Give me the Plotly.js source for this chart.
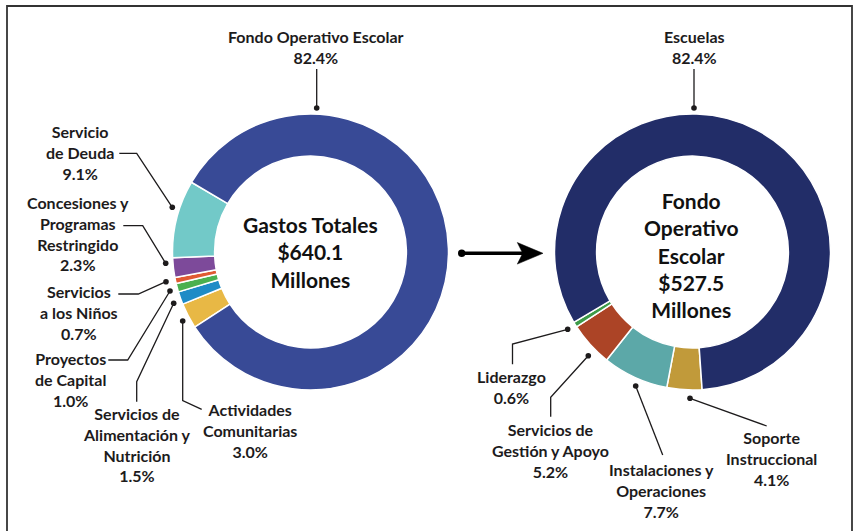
<!DOCTYPE html>
<html>
<head>
<meta charset="utf-8">
<script src="https://cdn.plot.ly/plotly-3.0.1.min.js"></script>
<style>html,body{margin:0;padding:0;background:#fff;}#chart{width:856px;height:531px;}</style>
</head>
<body>
<div id="chart"></div>
<script>
// ---- data ----
var leftCategories = ["Actividades Comunitarias", "Servicios de Alimentación y Nutrición", "Proyectos de Capital", "Servicios a los Niños", "Concesiones y Programas Restringido", "Servicio de Deuda", "Fondo Operativo Escolar"];
var leftValues = [3.0, 1.5, 1.0, 0.7, 2.3, 9.1, 82.4];
var leftColors = ["#e8b845", "#1e8bc6", "#4bb04f", "#e05a33", "#7d4a9a", "#72c9c8", "#384a96"];
var leftCenterText = ["Gastos Totales", "$640.1", "Millones"];

var rightCategories = ["Soporte Instruccional", "Instalaciones y Operaciones", "Servicios de Gestión y Apoyo", "Liderazgo", "Escuelas"];
var rightValues = [4.1, 7.7, 5.2, 0.6, 82.4];
var rightColors = ["#c19a3a", "#5ca8a8", "#ac4426", "#3d9b48", "#222d68"];
var rightCenterText = ["Fondo", "Operativo", "Escolar", "$527.5", "Millones"];

// label line breaks for display
var leftLabelLines = [["Actividades", "Comunitarias"], ["Servicios de", "Alimentación y", "Nutrición"], ["Proyectos", "de Capital"], ["Servicios", "a los Niños"], ["Concesiones y", "Programas", "Restringido"], ["Servicio", "de Deuda"], ["Fondo Operativo Escolar"]];
var rightLabelLines = [["Soporte", "Instruccional"], ["Instalaciones y", "Operaciones"], ["Servicios de", "Gestión y Apoyo"], ["Liderazgo"], ["Escuelas"]];

// ---- layout helpers (pixel -> paper) ----
var W = 856, H = 531;
function X(p){ return p / W; }
function Y(p){ return 1 - p / H; }

var R = 138;
var leftC = [310.5, 252], rightC = [692.5, 252];
function dom(c){ return {x: [X(c[0]-R), X(c[0]+R)], y: [Y(c[1]+R), Y(c[1]-R)]}; }

var txtColor = "#1d1b1c";
var labelFont = {family: "Lato, 'Open Sans', sans-serif", size: 16, color: txtColor, weight: 700};

// label positions (center of text block) and leader paths, in pixels
var leftLabelPos = [[249.5, 430], [136.5, 444.5], [70.5, 379.2], [78.5, 312], [78, 233.3], [79.5, 152.8], [315.5, 47]];
var leftLeaders = [
  [[201.7,409.3],[182.7,400.7],[182.7,321]],
  [[136.7,401.7],[136.7,381.7],[173.7,303.3]],
  [[108.3,360],[127.7,360],[170,291]],
  [[118.3,294],[138.3,294],[166,281.7]],
  [[123.3,225.7],[142.7,225.7],[165.7,263.3]],
  [[119.3,153.3],[136.7,153.3],[172.3,207.3]],
  [[316.7,69],[316.7,108]]
];
var rightLabelPos = [[771, 458.7], [661.5, 490.3], [550.5, 450.3], [512, 387.3], [694, 47]];
var rightLeaders = [
  [[766.7,426],[690,398.3]],
  [[662.7,455],[635.7,386]],
  [[550.7,416.7],[550.7,397.3],[588.3,355.7]],
  [[512.5,364.3],[512.5,344],[567.7,329.3]],
  [[694,69],[694,108]]
];

var traces = [
  {type: "pie", labels: leftCategories, values: leftValues, sort: false, direction: "clockwise", rotation: 237,
   hole: 0.695, domain: dom(leftC), textinfo: "none", hoverinfo: "label+percent",
   marker: {colors: leftColors, line: {color: "#ffffff", width: 1.5}}, showlegend: false},
  {type: "pie", labels: rightCategories, values: rightValues, sort: false, direction: "clockwise", rotation: 176,
   hole: 0.695, domain: dom(rightC), textinfo: "none", hoverinfo: "label+percent",
   marker: {colors: rightColors, line: {color: "#ffffff", width: 1.5}}, showlegend: false}
];

var annotations = [];
var shapes = [];

function addLabels(lines, values, pos, leaders){
  for (var i = 0; i < lines.length; i++){
    var t = lines[i].join("<br>") + "<br>" + values[i].toFixed(1) + "%";
    annotations.push({xref: "paper", yref: "paper", x: X(pos[i][0]), y: Y(pos[i][1]), xanchor: "center", yanchor: "middle",
      text: t, showarrow: false, align: "center", font: labelFont});
    var pts = leaders[i];
    var d = "M" + pts.map(function(p){ return X(p[0]) + "," + Y(p[1]); }).join(" L");
    shapes.push({type: "path", xref: "paper", yref: "paper", path: d, line: {color: txtColor, width: 1.3}});
    var e = pts[pts.length - 1], r = 2.8;
    shapes.push({type: "circle", xref: "paper", yref: "paper", x0: X(e[0]-r), x1: X(e[0]+r), y0: Y(e[1]+r), y1: Y(e[1]-r),
      fillcolor: txtColor, line: {width: 0}});
  }
}
addLabels(leftLabelLines, leftValues, leftLabelPos, leftLeaders);
addLabels(rightLabelLines, rightValues, rightLabelPos, rightLeaders);

var centerFont = {family: "Lato, 'Open Sans', sans-serif", size: 21, color: "#111111", weight: 700};
annotations.push({xref: "paper", yref: "paper", x: X(310), y: Y(252.5), xanchor: "center", yanchor: "middle",
  text: leftCenterText.join("<br>"), showarrow: false, font: centerFont});
annotations.push({xref: "paper", yref: "paper", x: X(691), y: Y(254.5), xanchor: "center", yanchor: "middle",
  text: rightCenterText.join("<br>"), showarrow: false, font: centerFont});

// arrow between the donuts
shapes.push({type: "line", xref: "paper", yref: "paper", x0: X(461.7), y0: Y(253.3), x1: X(523), y1: Y(253.3), line: {color: "#000", width: 3.5}});
shapes.push({type: "path", xref: "paper", yref: "paper",
  path: "M" + X(543) + "," + Y(253.3) + " L" + X(517.3) + "," + Y(242.5) + " L" + X(522.7) + "," + Y(253.3) + " L" + X(517.3) + "," + Y(264.1) + " Z",
  fillcolor: "#000", line: {color: "#000", width: 0.5}});
shapes.push({type: "circle", xref: "paper", yref: "paper", x0: X(458), x1: X(465.4), y0: Y(257), y1: Y(249.6), fillcolor: "#000", line: {width: 0}});

// frame
shapes.push({type: "rect", xref: "paper", yref: "paper", x0: X(7), x1: X(852), y0: Y(545), y1: Y(6), line: {color: "#333333", width: 1.8}, fillcolor: "rgba(0,0,0,0)"});

var layout = {
  width: W, height: H, margin: {l: 0, r: 0, t: 0, b: 0},
  paper_bgcolor: "#ffffff", plot_bgcolor: "#ffffff",
  showlegend: false, annotations: annotations, shapes: shapes
};

Plotly.newPlot("chart", traces, layout, {displayModeBar: false, staticPlot: true});
</script>
</body>
</html>
